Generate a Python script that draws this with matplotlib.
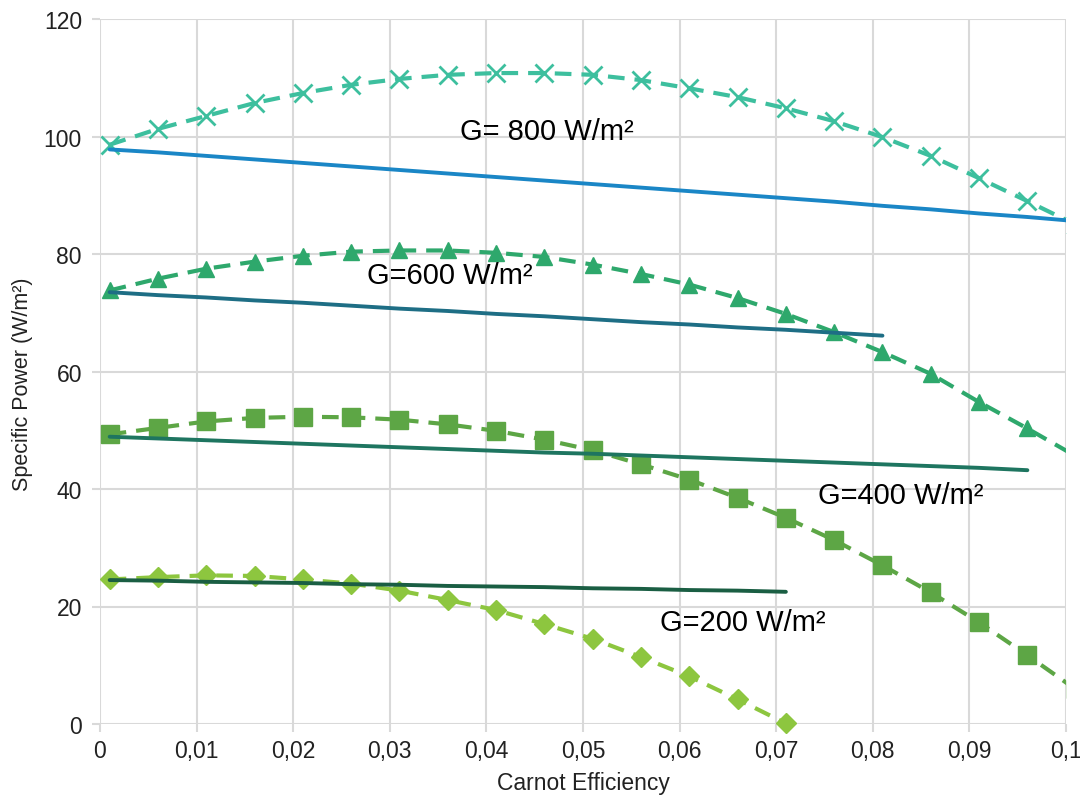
import matplotlib
matplotlib.use("Agg")
import matplotlib.pyplot as plt
from matplotlib.ticker import FuncFormatter, MultipleLocator

plt.rcParams['font.family'] = ['Liberation Sans', 'DejaVu Sans']

# x positions of the data points
x_pts = [0.001, 0.006, 0.011, 0.016, 0.021, 0.026, 0.031, 0.036, 0.041, 0.046,
         0.051, 0.056, 0.061, 0.066, 0.071, 0.076, 0.081, 0.086, 0.091, 0.096, 0.101]

# dashed curves (with markers)
p800 = [98.6, 101.3, 103.5, 105.7, 107.4, 108.8, 109.8, 110.5, 110.8, 110.8,
        110.5, 109.6, 108.2, 106.7, 104.8, 102.6, 99.9, 96.7, 92.9, 89.0, 85.0]
p600 = [73.8, 75.8, 77.5, 78.7, 79.7, 80.4, 80.6, 80.6, 80.2, 79.5,
        78.2, 76.6, 74.8, 72.5, 69.8, 66.7, 63.3, 59.6, 54.8, 50.3, 45.6]
p400 = [49.3, 50.4, 51.5, 52.1, 52.3, 52.2, 51.8, 51.0, 49.9, 48.4,
        46.6, 44.2, 41.6, 38.5, 35.1, 31.3, 27.0, 22.4, 17.3, 11.7, 5.9]
p200 = [24.6, 25.0, 25.3, 25.2, 24.6, 23.9, 22.7, 21.1, 19.4, 17.0,
        14.5, 11.4, 8.1, 4.2, 0.1]

# solid curves
s800 = [97.8, 97.3, 96.7, 96.1, 95.5, 94.9, 94.3, 93.7, 93.1, 92.5,
        91.9, 91.3, 90.7, 90.1, 89.5, 88.9, 88.2, 87.6, 86.9, 86.3, 85.6]
s600 = [73.5, 73.0, 72.6, 72.1, 71.7, 71.2, 70.7, 70.3, 69.8, 69.4,
        68.9, 68.4, 68.0, 67.5, 67.1, 66.6, 66.1]
s400 = [48.9, 48.6, 48.3, 48.0, 47.7, 47.4, 47.1, 46.8, 46.5, 46.2,
        46.0, 45.7, 45.4, 45.1, 44.8, 44.5, 44.2, 43.9, 43.6, 43.2]
s200 = [24.5, 24.4, 24.2, 24.1, 24.0, 23.8, 23.7, 23.5, 23.4, 23.3,
        23.1, 23.0, 22.8, 22.7, 22.5]

labels = ['G= 800 W/m²', 'G=600 W/m²', 'G=400 W/m²', 'G=200 W/m²']
label_xy = [(0.0373, 101.0), (0.0276, 76.4), (0.0743, 38.9), (0.058, 17.4)]

fig = plt.figure(figsize=(10.8, 8.03), dpi=100)
ax = fig.add_axes([100/1080, 78/803, 966/1080, 705/803])

dash = (4, 2.4)
ax.plot(x_pts[:len(p800)], p800, color='#3DBF9E', lw=3, dashes=dash,
        marker='x', ms=13, mew=2, clip_on=True, zorder=3)
ax.plot(x_pts[:len(p600)], p600, color='#2EA86C', lw=3, dashes=dash,
        marker='^', ms=12, clip_on=True, zorder=3)
ax.plot(x_pts[:len(p400)], p400, color='#5DA645', lw=3, dashes=dash,
        marker='s', ms=12.5, clip_on=True, zorder=3)
ax.plot(x_pts[:len(p200)], p200, color='#8DC63F', lw=3, dashes=dash,
        marker='D', ms=10, clip_on=False, zorder=3)

ax.plot(x_pts[:len(s800)], s800, color='#1A86C6', lw=2.8, solid_capstyle='round', zorder=4)
ax.plot(x_pts[:len(s600)], s600, color='#1E6E85', lw=2.8, solid_capstyle='round', zorder=4)
ax.plot(x_pts[:len(s400)], s400, color='#1E7560', lw=2.8, solid_capstyle='round', zorder=4)
ax.plot(x_pts[:len(s200)], s200, color='#1A5E43', lw=2.8, solid_capstyle='round', zorder=4)

for t, (tx, ty) in zip(labels, label_xy):
    ax.text(tx, ty, t, fontsize=21, ha='left', va='center', zorder=5)

ax.set_xlim(0, 0.1)
ax.set_ylim(0, 120)
ax.xaxis.set_major_locator(MultipleLocator(0.01))
ax.yaxis.set_major_locator(MultipleLocator(20))


def fmt_x(v, pos):
    s = f"{v:.2f}".rstrip('0').rstrip('.')
    if s in ('0', '-0'):
        return '0'
    return s.replace('.', ',')


ax.xaxis.set_major_formatter(FuncFormatter(fmt_x))
ax.yaxis.set_major_formatter(FuncFormatter(lambda v, p: f"{int(v)}"))

ax.grid(True, color='#D9D9D9', lw=1.5)
ax.set_axisbelow(True)
for sp in ax.spines.values():
    sp.set_visible(False)
ax.tick_params(axis='both', colors='#D9D9D9', labelcolor='#222222',
               labelsize=16.5, length=6, width=1.5)
ax.tick_params(axis='x', pad=5)
ax.tick_params(axis='y', pad=7)

ax.set_xlabel('Carnot Efficiency', fontsize=16.5, color='#222222', labelpad=6)
ax.set_ylabel('Specific Power (W/m²)', fontsize=15.5, color='#222222',
              labelpad=8, y=0.483)

fig.savefig('out.png', dpi=100)
